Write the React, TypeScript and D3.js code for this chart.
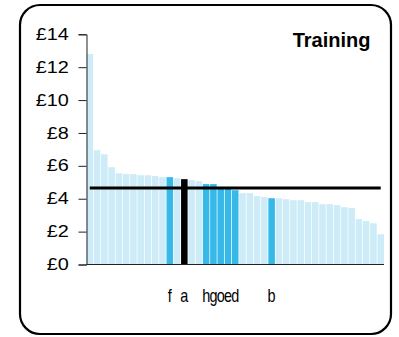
import React, { useRef, useEffect } from 'react';
import * as d3 from 'd3';

// bar values (£), sorted high to low
const values = [
  12.8, 6.95, 6.7, 5.92, 5.55, 5.5, 5.5, 5.43, 5.43, 5.38,
  5.31, 5.31, 5.25, 5.19, 5.13, 5.07, 4.89, 4.89, 4.72, 4.62,
  4.52, 4.34, 4.34, 4.16, 4.1, 4.03, 4.03, 3.97, 3.91, 3.91,
  3.79, 3.79, 3.67, 3.67, 3.61, 3.49, 3.43, 2.76, 2.64, 2.51,
  1.84
];
// label under each bar ('' for none)
const labels = [
  '', '', '', '', '', '', '', '', '', '',
  '', 'f', '', 'a', '', '', 'h', 'g', 'o', 'e',
  'd', '', '', '', '', 'b', '', '', '', '',
  '', '', '', '', '', '', '', '', '', '',
  ''
];
// bar kind: 0 = other, 1 = highlighted, 2 = selected
const kinds = [
  0, 0, 0, 0, 0, 0, 0, 0, 0, 0,
  0, 1, 0, 2, 0, 0, 1, 1, 1, 1,
  1, 0, 0, 0, 0, 1, 0, 0, 0, 0,
  0, 0, 0, 0, 0, 0, 0, 0, 0, 0,
  0
];
const average = 4.66;
const yTicks = [0, 2, 4, 6, 8, 10, 12, 14];
const title = 'Training';

const W = 399;
const H = 337;
const colors = ['#cdecf8', '#36b9e8', '#000000'];
const font = '"Liberation Sans", Arial, sans-serif';

const App = () => {
  const svgRef = useRef<SVGSVGElement | null>(null);

  useEffect(() => {
    const svg = d3.select(svgRef.current);
    svg.selectAll('*').remove();

    const left = 86.5, right = 384, top = 34.3, bottom = 264.5;

    const x = d3.scaleBand<number>()
      .domain(values.map((_, i) => i))
      .range([left, right])
      .paddingInner(0.1)
      .paddingOuter(0);

    const y = d3.scaleLinear().domain([0, 14]).range([bottom, top]);

    // frame
    svg.append('rect')
      .attr('x', 20).attr('y', 5)
      .attr('width', 371).attr('height', 329)
      .attr('rx', 20).attr('ry', 20)
      .attr('fill', 'white')
      .attr('stroke', '#000')
      .attr('stroke-width', 2.2);

    // bars
    svg.append('g')
      .selectAll('rect')
      .data(values)
      .join('rect')
      .attr('x', (_, i) => x(i)!)
      .attr('y', d => y(d))
      .attr('width', x.bandwidth())
      .attr('height', d => bottom - y(d))
      .attr('fill', (_, i) => colors[kinds[i]]);

    // average line
    svg.append('line')
      .attr('x1', x(0)! + x.bandwidth() / 2)
      .attr('x2', x(values.length - 1)! + x.bandwidth() / 2)
      .attr('y1', y(average))
      .attr('y2', y(average))
      .attr('stroke', '#000')
      .attr('stroke-width', 3);

    // y axis
    const yAxis = d3.axisLeft(y)
      .tickValues(yTicks)
      .tickSize(8)
      .tickPadding(9)
      .tickFormat(d => `£${d}`);

    const ga = svg.append('g')
      .attr('transform', `translate(${left},0)`)
      .call(yAxis);
    ga.select('.domain').attr('stroke', '#222');
    ga.selectAll('.tick line').attr('stroke', '#222');
    ga.selectAll('.tick text')
      .attr('font-family', font)
      .attr('font-size', 16)
      .attr('fill', '#000')
      .attr('transform', 'scale(1.24,1)')
      .attr('x', -17 / 1.24 - 0.5);

    // x axis line
    svg.append('line')
      .attr('x1', left).attr('x2', right)
      .attr('y1', bottom).attr('y2', bottom)
      .attr('stroke', '#222')
      .attr('stroke-width', 1.2);

    // category labels (narrowed so neighbours just touch)
    svg.append('g')
      .selectAll('text')
      .data(labels)
      .join('text')
      .attr('transform', (_, i) => `translate(${x(i)! + x.bandwidth() / 2},301.5) scale(0.78,1)`)
      .attr('text-anchor', 'middle')
      .attr('font-family', font)
      .attr('font-size', 18.5)
      .text(d => d);

    // title
    svg.append('text')
      .attr('x', 370.5)
      .attr('y', 46.7)
      .attr('text-anchor', 'end')
      .attr('font-family', font)
      .attr('font-weight', 'bold')
      .attr('font-size', 20)
      .text(title);
  }, []);

  return (
    <div style={{ position: 'absolute', left: 0, top: 0 }}>
      <svg ref={svgRef} width={W} height={H} style={{ display: 'block' }}></svg>
    </div>
  );
};

export default App;
